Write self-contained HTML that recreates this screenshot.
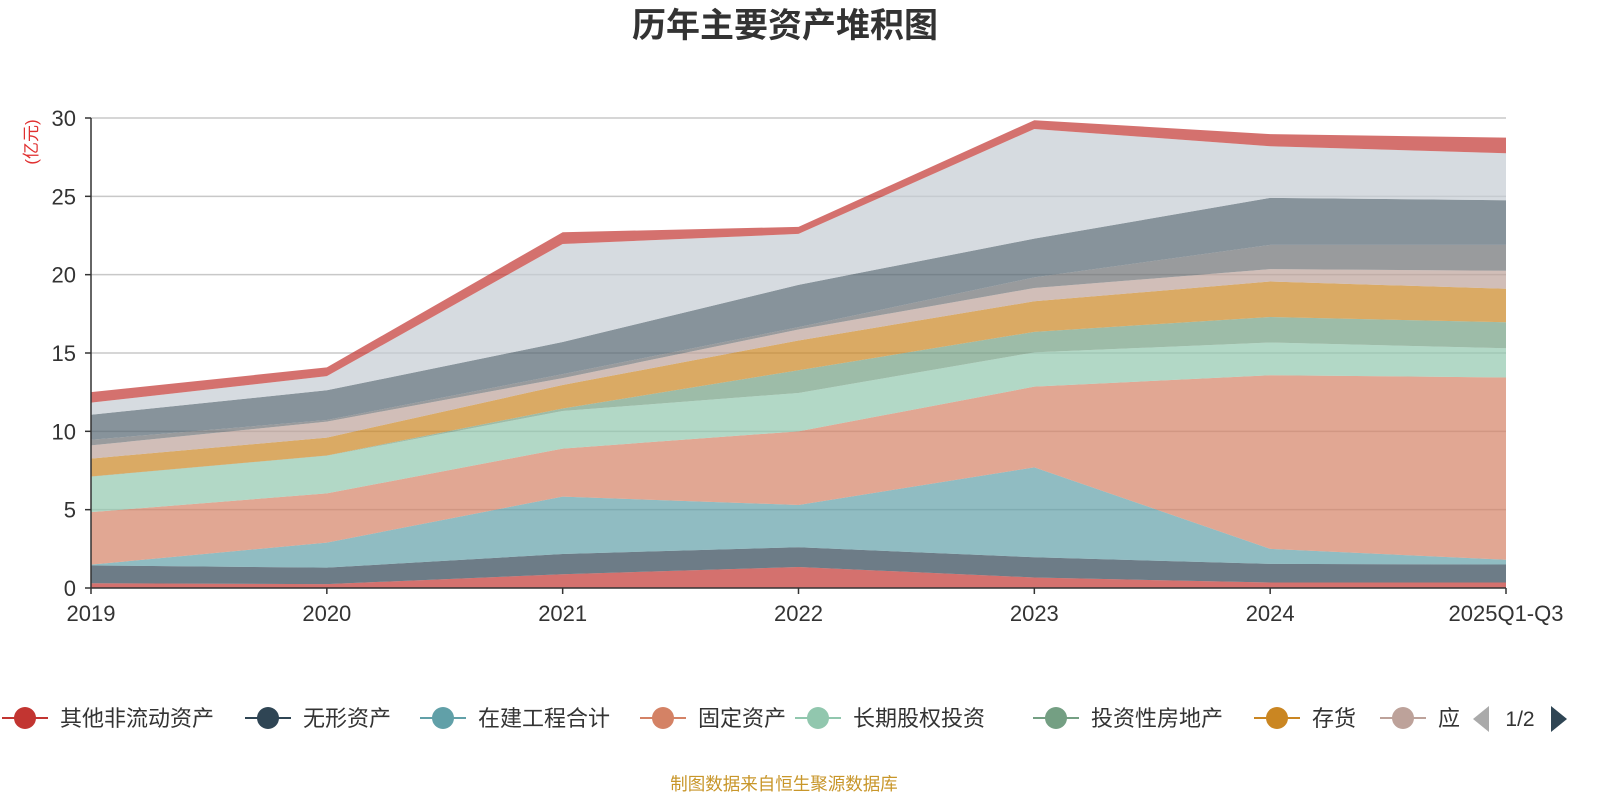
<!DOCTYPE html>
<html><head><meta charset="utf-8"><style>
body{margin:0;background:#fff;width:1600px;height:800px;overflow:hidden;font-family:"Liberation Sans","Noto Sans CJK SC",sans-serif}
</style></head><body>
<svg id="chart" width="1600" height="800" xmlns="http://www.w3.org/2000/svg" font-family="Liberation Sans, Noto Sans CJK SC, sans-serif">
<text x="785" y="37" text-anchor="middle" font-size="34" font-weight="bold" fill="#333">历年主要资产堆积图</text>
<text transform="translate(37,142) rotate(-90)" text-anchor="middle" font-size="17" fill="#e03030">(亿元)</text>
<g id="grid"></g><g id="areas"></g><g id="axes"></g><g id="legend"></g>
<text x="784" y="790" text-anchor="middle" font-size="17.5" fill="#c8962a">制图数据来自恒生聚源数据库</text>
</svg>
<script>
const categories=["2019","2020","2021","2022","2023","2024","2025Q1-Q3"];
const seriesNames=["其他非流动资产","无形资产","在建工程合计","固定资产","长期股权投资","投资性房地产","存货","应收账款","其他资产A","其他资产B","其他资产C","其他资产D"];
const s1=[0.3,0.25,0.88,1.34,0.67,0.35,0.35];
const s2=[1.14,1.05,1.29,1.26,1.29,1.19,1.15];
const s3=[0.05,1.6,3.66,2.7,5.74,0.96,0.3];
const s4=[3.35,3.14,3.07,4.7,5.15,11.08,11.64];
const s5=[2.26,2.4,2.4,2.45,2.19,2.09,1.86];
const s6=[0.02,0.02,0.16,1.45,1.31,1.63,1.66];
const s7=[1.14,1.14,1.5,1.9,1.95,2.26,2.14];
const s8=[0.84,1.02,0.44,0.7,0.85,0.79,1.15];
const s9=[0.36,0.1,0.25,0.15,0.68,1.55,1.65];
const s10=[1.6,1.9,2.05,2.7,2.47,3.0,2.85];
const s11=[0.77,0.9,6.26,3.25,7.0,3.3,3.0];
const s12=[0.67,0.56,0.75,0.45,0.56,0.77,1.0];
const yTicks=[0,5,10,15,20,25,30];
const series=[s1,s2,s3,s4,s5,s6,s7,s8,s9,s10,s11,s12];
const colors=["#c23531","#2f4554","#61a0a8","#d48265","#91c7ae","#749f83","#ca8622","#bda29a","#6e7074","#546570","#c4ccd3","#c23531"];
const NS="http://www.w3.org/2000/svg";
const X0=91,X1=1506,Y0=588,Y30=118;
const xs=i=>X0+(X1-X0)*i/(categories.length-1);
const ys=v=>Y0-(Y0-Y30)*v/30;
function mk(tag,attrs,parent){const e=document.createElementNS(NS,tag);for(const k in attrs)e.setAttribute(k,attrs[k]);parent.appendChild(e);return e;}
const grid=document.getElementById('grid'),areas=document.getElementById('areas'),axes=document.getElementById('axes'),legend=document.getElementById('legend');
yTicks.forEach(t=>{
 if(t>0){const l=mk('line',{x1:X0,x2:X1,y1:ys(t),y2:ys(t),stroke:'#c8c8c8','stroke-width':1.5},grid);
 
 }
 const tl=mk('text',{x:76,y:ys(t)+8,'text-anchor':'end','font-size':22,fill:'#333'},axes);tl.textContent=t;
 
 
 mk('line',{x1:X0-6,x2:X0,y1:ys(t),y2:ys(t),stroke:'#333','stroke-width':1.5},axes);
});
let cum=categories.map(()=>0);
series.forEach((s,si)=>{
 const lo=cum.slice(),hi=cum.map((c,i)=>c+s[i]);
 let d='M'+hi.map((v,i)=>xs(i)+','+ys(v)).join('L');
 for(let i=lo.length-1;i>=0;i--)d+='L'+xs(i)+','+ys(lo[i]);
 const p=mk('path',{d:d+'Z',fill:colors[si],'fill-opacity':0.7},areas);
 
 
 cum=hi;
});
mk('line',{x1:X0,x2:X0,y1:Y30,y2:Y0,stroke:'#333','stroke-width':1.5},axes);
mk('line',{x1:X0,x2:X1,y1:Y0,y2:Y0,stroke:'#333','stroke-width':1.5},axes);
categories.forEach((c,i)=>{
 mk('line',{x1:xs(i),x2:xs(i),y1:Y0,y2:Y0+6,stroke:'#333','stroke-width':1.5},axes);
 const t=mk('text',{x:xs(i),y:621,'text-anchor':'middle','font-size':22,fill:'#333'},axes);t.textContent=c;
 
 
});
const legX=[25,268,443,663,818,1056,1277,1403];
const clip=mk('clipPath',{id:'lc'},legend);mk('rect',{x:0,y:690,width:1460,height:60},clip);
const lg=mk('g',{'clip-path':'url(#lc)'},legend);
legX.forEach((x,i)=>{
 const g=mk('g',{},lg);
 
 
 mk('line',{x1:x-23,x2:x+23,y1:718,y2:718,stroke:colors[i],'stroke-width':2},g);
 mk('circle',{cx:x,cy:718,r:11,fill:colors[i]},g);
 const t=mk('text',{x:x+35,y:726,'font-size':22,fill:'#333'},g);t.textContent=seriesNames[i];
});
const pl=mk('polygon',{points:'1489,706 1489,732 1473,719',fill:'#aaa'},legend);


const pt=mk('text',{x:1520,y:726,'text-anchor':'middle','font-size':21,fill:'#333'},legend);pt.textContent='1/2';


const pn=mk('polygon',{points:'1551,706 1551,732 1567,719',fill:'#2f4554'},legend);


</script>
</body></html>
